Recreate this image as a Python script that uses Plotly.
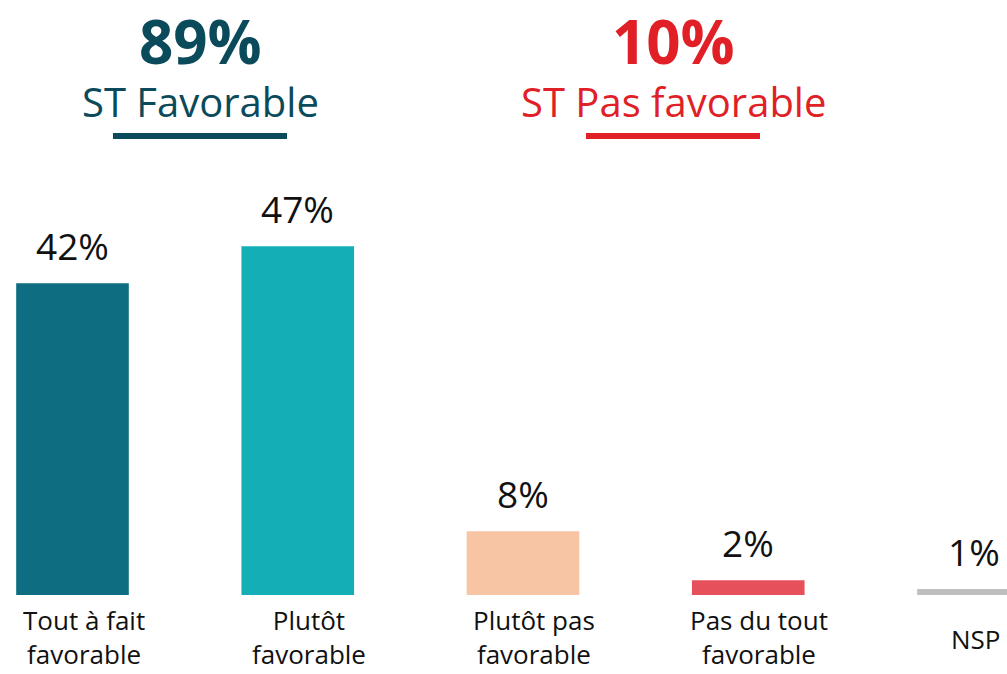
import plotly.graph_objects as go

categories = ['Tout à fait<br>favorable', 'Plutôt<br>favorable', 'Plutôt pas<br>favorable',
              'Pas du tout<br>favorable', 'NSP']
values = [42, 47, 8.6, 2, 0.8]
value_labels = ['42%', '47%', '8%', '2%', '1%']
bar_colors = ['#0e6d80', '#14afb6', '#f7c5a4', '#e5505a', '#bfbfbf']

summary_values = ['89%', '10%']
summary_names = ['ST Favorable', 'ST Pas favorable']
summary_colors = ['#0b4a5a', '#e01f26']

H = 674
base_px = 595  # pixel row of the bars' baseline


def py(p):
    # pixel row -> paper coordinate (plot area spans rows 0..base_px)
    return (base_px - p) / base_px


x = list(range(len(categories)))

fig = go.Figure(go.Bar(
    x=x, y=values, width=0.5,
    marker=dict(color=bar_colors, line=dict(width=0)),
    hoverinfo='skip',
))

# value labels above the bars
for i, (v, t) in enumerate(zip(values, value_labels)):
    fig.add_annotation(x=i, y=v, text=t, showarrow=False, yanchor='bottom',
                       yshift=10, font=dict(size=37, color='#111111'))

# category labels under the bars (slightly right of centre, as in the original);
# single-line labels are centred on the two-line block
for i, c in enumerate(categories):
    two_lines = '<br>' in c
    fig.add_annotation(x=i, y=0, text=c, showarrow=False,
                       yanchor='top' if two_lines else 'middle',
                       xshift=11 if two_lines else 2,
                       yshift=-6 if two_lines else -44,
                       borderpad=0,
                       font=dict(size=26, color='#111111'))

# summary headers
for xc, val, name, col in zip([200 / 1007, 673 / 1007], summary_values, summary_names, summary_colors):
    fig.add_annotation(xref='paper', yref='paper', x=xc, y=py(41), text='<b>%s</b>' % val,
                       showarrow=False, xanchor='center', yanchor='middle',
                       font=dict(size=60, color=col))
    fig.add_annotation(xref='paper', yref='paper', x=xc, y=py(102), text=name,
                       showarrow=False, xanchor='center', yanchor='middle',
                       font=dict(size=40, color=col))
    fig.add_shape(type='line', xref='paper', yref='paper',
                  x0=xc - 87 / 1007, x1=xc + 87 / 1007, y0=py(136), y1=py(136),
                  line=dict(color=col, width=6))

fig.update_layout(
    width=1007, height=H,
    margin=dict(l=0, r=0, t=0, b=H - base_px),
    paper_bgcolor='white', plot_bgcolor='white',
    font=dict(family='Open Sans', color='#111111'),
    showlegend=False,
    xaxis=dict(range=[-72.5 / 225.25, (1007 - 72.5) / 225.25], tickvals=x,
               showticklabels=False, automargin=False,
               showgrid=False, zeroline=False, showline=False, ticks=''),
    yaxis=dict(range=[0, base_px / 7.42], visible=False, automargin=False),
)

fig.write_html("out.html", config={'displayModeBar': False},
               post_script="document.body.style.margin='0px';")
